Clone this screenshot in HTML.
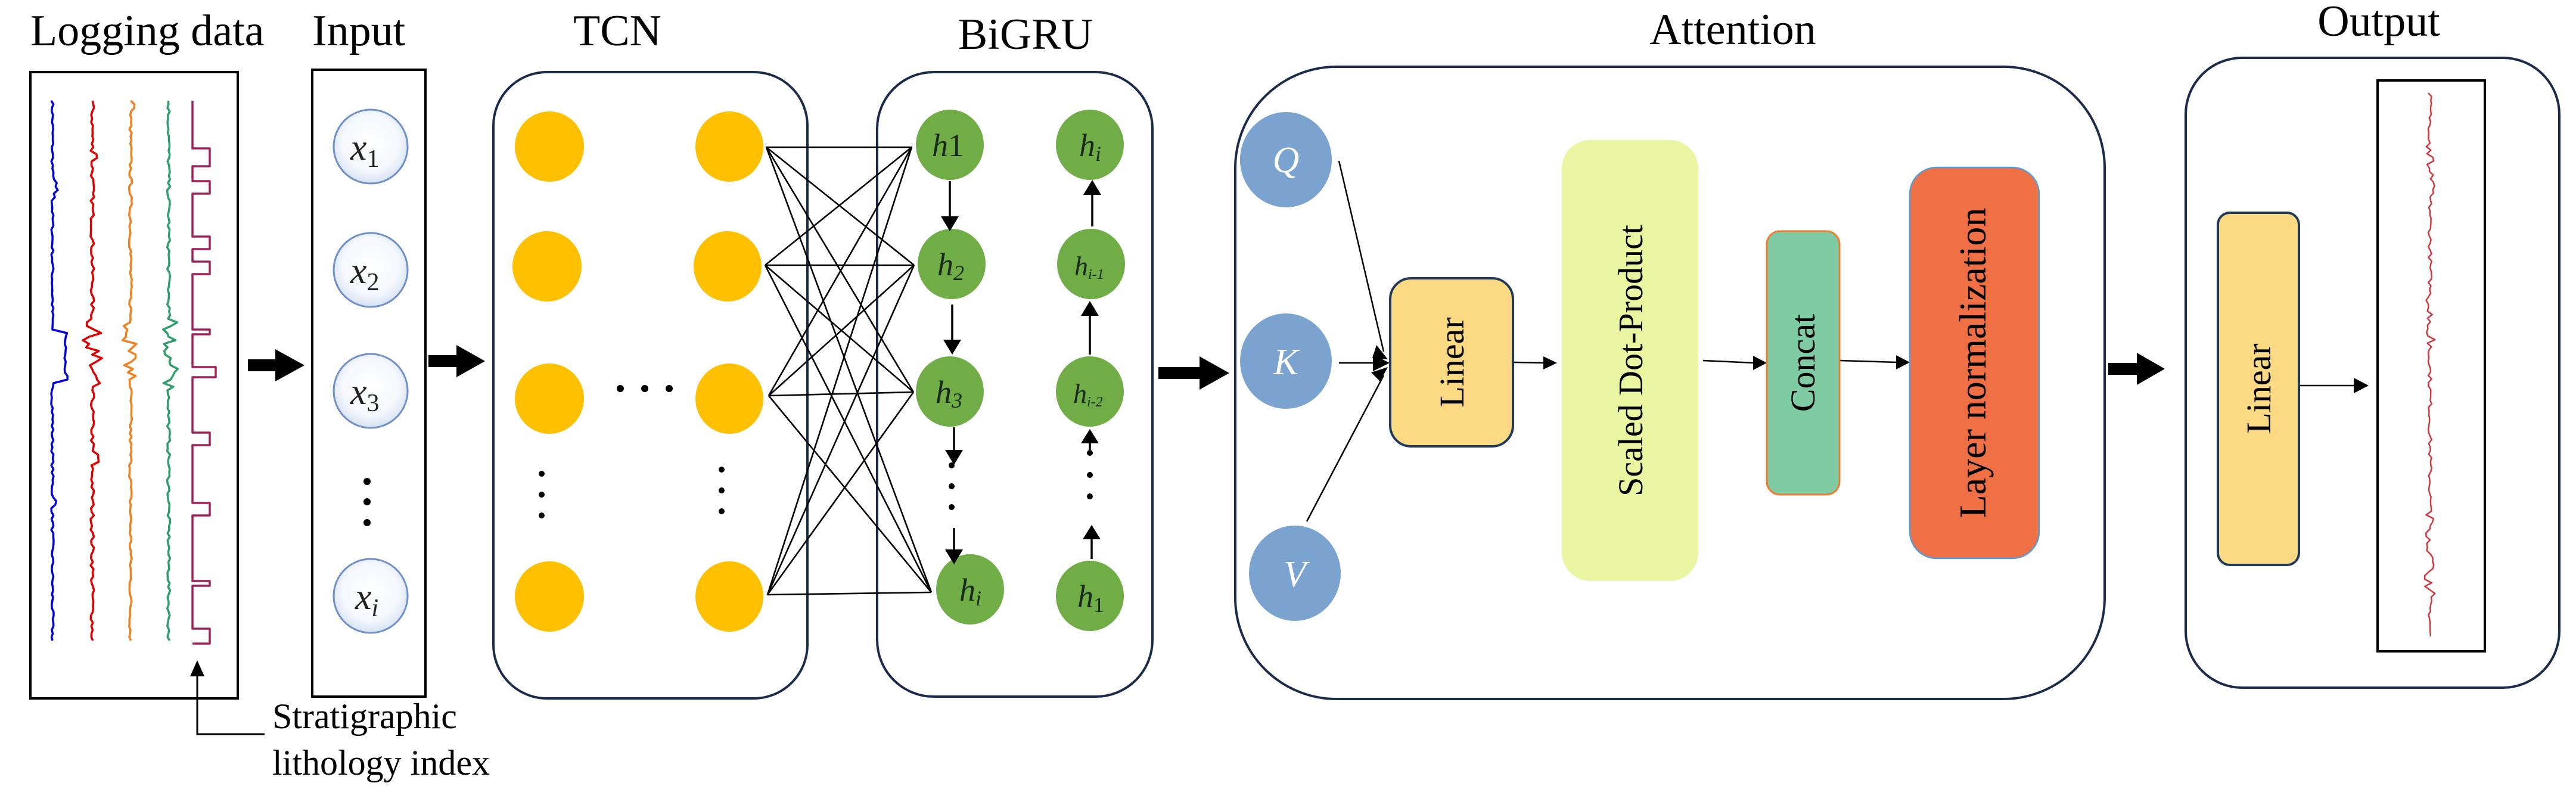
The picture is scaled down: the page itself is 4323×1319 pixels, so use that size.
<!DOCTYPE html>
<html><head><meta charset="utf-8"><style>
html,body{margin:0;padding:0;background:#fff;}
svg{display:block;}
text{font-family:"Liberation Serif",serif;}
</style></head><body>
<svg id="s" width="4323" height="1319" viewBox="0 0 4323 1319" xmlns="http://www.w3.org/2000/svg" font-family="Liberation Serif, serif">
<defs>
<radialGradient id="gx" cx="50%" cy="45%" r="55%"><stop offset="0" stop-color="#ffffff"/><stop offset="0.7" stop-color="#f4f7fc"/><stop offset="1" stop-color="#d6e2f3"/></radialGradient>
</defs>

<g font-size="74" fill="#000">
<text x="51" y="76">Logging data</text>
<text x="524" y="76">Input</text>
<text x="1036" y="76" text-anchor="middle">TCN</text>
<text x="1721" y="82" text-anchor="middle">BiGRU</text>
<text x="2908" y="74" text-anchor="middle">Attention</text>
<text x="3992" y="60" text-anchor="middle">Output</text>
</g>

<rect x="51" y="121" width="348" height="1051" fill="#fff" stroke="#000" stroke-width="4"/>
<g id="curves" fill="none" stroke-width="3.5" stroke-linejoin="round"></g>

<polyline points="444,1232 331,1232 331,1125" fill="none" stroke="#000" stroke-width="3"/>
<polygon points="331,1108 319,1135 343,1135" fill="#000"/>
<text x="457" y="1222" font-size="60">Stratigraphic</text>
<text x="457" y="1300" font-size="60">lithology index</text>

<g fill="#000">
<polygon points="416,603 462,603 462,586 511,613 462,640 462,623 416,623"/>
<polygon points="719,596 766,596 766,579 814,606 766,633 766,616 719,616"/>
<polygon points="1944,616 2013,616 2013,598 2063,626 2013,654 2013,636 1944,636"/>
<polygon points="3538,609 3586,609 3586,592 3633,619 3586,646 3586,629 3538,629"/>
</g>

<rect x="524" y="117" width="190" height="1052" fill="#fff" stroke="#000" stroke-width="4"/>
<g stroke="#6f8fc7" stroke-width="3" fill="url(#gx)">
<circle cx="622" cy="246" r="62"/>
<circle cx="622" cy="453" r="62"/>
<circle cx="622" cy="656" r="62"/>
<circle cx="622" cy="1000" r="62"/>
</g>
<g font-size="62" font-style="italic" fill="#222">
<text x="588" y="268">x<tspan font-size="42" font-style="normal" dy="12">1</tspan></text>
<text x="588" y="475">x<tspan font-size="42" font-style="normal" dy="12">2</tspan></text>
<text x="588" y="678">x<tspan font-size="42" font-style="normal" dy="12">3</tspan></text>
<text x="596" y="1022">x<tspan font-size="42" dy="12">i</tspan></text>
</g>
<g fill="#000"><circle cx="616" cy="808" r="6"/><circle cx="616" cy="842" r="6"/><circle cx="616" cy="877" r="6"/></g>

<rect x="828" y="121" width="527" height="1051" rx="90" fill="none" stroke="#1b2c4a" stroke-width="4"/>
<g fill="#ffc000">
<ellipse cx="922" cy="246" rx="58" ry="59"/><ellipse cx="1224" cy="246" rx="57" ry="59"/>
<ellipse cx="918" cy="447" rx="58" ry="59"/><ellipse cx="1221" cy="447" rx="57" ry="59"/>
<ellipse cx="922" cy="669" rx="58" ry="59"/><ellipse cx="1224" cy="669" rx="57" ry="59"/>
<ellipse cx="922" cy="1001" rx="58" ry="59"/><ellipse cx="1224" cy="1001" rx="57" ry="59"/>
</g>
<g fill="#000">
<circle cx="1041" cy="652" r="6"/><circle cx="1082" cy="652" r="6"/><circle cx="1123" cy="652" r="6"/>
<circle cx="909" cy="795" r="5"/><circle cx="909" cy="830" r="5"/><circle cx="909" cy="865" r="5"/>
<circle cx="1211" cy="788" r="5"/><circle cx="1211" cy="823" r="5"/><circle cx="1211" cy="858" r="5"/>
</g>

<rect x="1472" y="121" width="462" height="1048" rx="95" fill="none" stroke="#1b2c4a" stroke-width="4"/>
<g id="cross" stroke="#000" stroke-width="2.6" fill="none"></g>

<g fill="#70ad47">
<ellipse cx="1594" cy="243" rx="57" ry="59"/><ellipse cx="1829" cy="243" rx="57" ry="59"/>
<ellipse cx="1597" cy="443" rx="57" ry="59"/><ellipse cx="1831" cy="443" rx="57" ry="59"/>
<ellipse cx="1594" cy="657" rx="57" ry="59"/><ellipse cx="1829" cy="657" rx="57" ry="59"/>
<ellipse cx="1628" cy="989" rx="57" ry="59"/><ellipse cx="1829" cy="1000" rx="57" ry="59"/>
</g>
<g font-size="54" font-style="italic" fill="#1a2a1a">
<text x="1564" y="262">h<tspan font-style="normal">1</tspan></text>
<text x="1573" y="462">h<tspan font-size="36" dy="8">2</tspan></text>
<text x="1570" y="676">h<tspan font-size="36" dy="8">3</tspan></text>
<text x="1610" y="1008">h<tspan font-size="36" dy="8">i</tspan></text>
<text x="1811" y="262">h<tspan font-size="36" dy="8">i</tspan></text>
<text x="1803" y="462" font-size="46">h<tspan font-size="24" dy="6">i-1</tspan></text>
<text x="1801" y="676" font-size="46">h<tspan font-size="24" dy="6">i-2</tspan></text>
<text x="1808" y="1019">h<tspan font-size="36" dy="8" font-style="normal">1</tspan></text>
</g>
<g stroke="#000" stroke-width="3.5">
<line x1="1594" y1="304" x2="1594" y2="365"/>
<line x1="1598" y1="511" x2="1598" y2="572"/>
<line x1="1601" y1="717" x2="1601" y2="758"/>
<line x1="1601" y1="886" x2="1601" y2="925"/>
<line x1="1833" y1="380" x2="1833" y2="325"/>
<line x1="1829" y1="595" x2="1829" y2="527"/>
<line x1="1829" y1="755" x2="1829" y2="741"/>
<line x1="1832" y1="938" x2="1832" y2="903"/>
</g>
<g fill="#000">
<polygon points="1579,363 1609,363 1594,388"/>
<polygon points="1583,570 1613,570 1598,595"/>
<polygon points="1586,755 1616,755 1601,780"/>
<polygon points="1586,922 1616,922 1601,947"/>
<polygon points="1818,327 1848,327 1833,302"/>
<polygon points="1814,530 1844,530 1829,505"/>
<polygon points="1814,744 1844,744 1829,720"/>
<polygon points="1817,905 1847,905 1832,881"/>
<circle cx="1597" cy="781" r="5"/><circle cx="1597" cy="816" r="5"/><circle cx="1597" cy="851" r="5"/>
<circle cx="1829" cy="760" r="5"/><circle cx="1829" cy="797" r="5"/><circle cx="1829" cy="833" r="5"/>
</g>

<rect x="2073" y="112" width="1459" height="1061" rx="170" fill="none" stroke="#1b2c4a" stroke-width="4"/>
<g fill="#7aa3cf">
<ellipse cx="2158" cy="268" rx="77" ry="80"/>
<ellipse cx="2158" cy="606" rx="77" ry="80"/>
<ellipse cx="2173" cy="962" rx="77" ry="80"/>
</g>
<g font-size="62" font-style="italic" fill="#fff" text-anchor="middle">
<text x="2158" y="289">Q</text><text x="2158" y="628">K</text><text x="2173" y="984">V</text>
</g>
<g stroke="#000" stroke-width="2.5">
<line x1="2247" y1="270" x2="2322" y2="590"/>
<line x1="2247" y1="609" x2="2315" y2="609"/>
<line x1="2193" y1="875" x2="2322" y2="630"/>
<line x1="2541" y1="608" x2="2598" y2="609"/>
<line x1="2858" y1="605" x2="2945" y2="609"/>
<line x1="3087" y1="605" x2="3185" y2="608"/>
<line x1="3858" y1="647" x2="3952" y2="647"/>
</g>
<g fill="#000">
<polygon points="2332,609 2304,595 2304,623"/>
<polygon points="2329,603 2310,579 2303,601"/>
<polygon points="2329,616 2301,625 2316,640"/>
<polygon points="2613,609 2590,598 2590,620"/>
<polygon points="2965,609 2942,597 2942,621"/>
<polygon points="3205,608 3182,596 3182,620"/>
<polygon points="3975,647 3950,634 3950,660"/>
</g>
<rect x="2333" y="467" width="206" height="282" rx="35" fill="#fcd983" stroke="#1f3a5a" stroke-width="4"/>
<text transform="translate(2456,608) rotate(-90)" font-size="58" text-anchor="middle">Linear</text>
<rect x="2621" y="235" width="229" height="740" rx="48" fill="#e9f5a0"/>
<text transform="translate(2756,605) rotate(-90)" font-size="58" text-anchor="middle">Scaled Dot-Product</text>
<rect x="2965" y="388" width="122" height="442" rx="22" fill="#7fcba4" stroke="#ee7d31" stroke-width="3"/>
<text transform="translate(3045,609) rotate(-90)" font-size="58" text-anchor="middle">Concat</text>
<rect x="3205" y="281" width="217" height="656" rx="45" fill="#f07045" stroke="#5b9bd5" stroke-width="2.5"/>
<text transform="translate(3332,609) rotate(-90)" font-size="64" text-anchor="middle">Layer normalization</text>

<rect x="3668" y="97" width="627" height="1057" rx="95" fill="none" stroke="#1b2c4a" stroke-width="4"/>
<rect x="3722" y="357" width="136" height="591" rx="20" fill="#fcd983" stroke="#1f3a5a" stroke-width="4"/>
<text transform="translate(3810,652) rotate(-90)" font-size="58" text-anchor="middle">Linear</text>
<rect x="3990" y="135" width="180" height="958" fill="#fff" stroke="#000" stroke-width="4"/>
<g id="outc" fill="none" stroke="#d0383f" stroke-width="2.5" stroke-linejoin="round"></g>
</svg>
<script>
(function(){
var NS="http://www.w3.org/2000/svg";
var seed=7;function r(){seed=(seed*16807)%2147483647;return seed/2147483647-0.5;}
function path(g,d,c){var p=document.createElementNS(NS,"path");p.setAttribute("d",d);if(c)p.setAttribute("stroke",c);g.appendChild(p);}
var cg=document.getElementById("curves");
function wig(base,amp,c,bumps,y0,y1){var d="",x;for(var y=y0;y<=y1;y+=6){x=base+r()*amp;for(var i=0;i<bumps.length;i++){var b=bumps[i];if(y>=b[0]&&y<=b[1])x+=b[2]+r()*b[3];}d+=(d?"L":"M")+x.toFixed(1)+","+y;}path(cg,d,c);}
wig(88,4,"#0000dd",[[555,640,22,4],[300,335,4,8],[830,850,4,6]],169,1080);
wig(155,6,"#e00000",[[540,650,0,30],[255,270,8,6],[760,780,8,6]],169,1080);
wig(219,5,"#f08020",[[540,640,0,22],[170,185,6,4]],169,1080);
wig(283,5,"#2e9e6a",[[540,650,0,30]],169,1080);
var st=[[249,279],[304,325],[397,418],[439,460],[553,561],[616,633],[726,747],[844,865],[975,983],[1055,1080]];
var d="M323,169",xb=323;
for(var i=0;i<st.length;i++){var x2=(i==5)?362:352;d+="L"+xb+","+st[i][0]+"L"+x2+","+st[i][0]+"L"+x2+","+st[i][1]+"L"+xb+","+st[i][1];}
d+="L"+xb+",1080";path(cg,d,"#a0215a");
var og=document.getElementById("outc");var od="";
for(var y=156;y<=1072;y+=6){var x=4078+r()*6;if((y>240&&y<330)||(y>500&&y<600)||(y>860&&y<1000))x+=r()*14;od+=(od?"L":"M")+x.toFixed(1)+","+y;}
path(og,od);
var cr=document.getElementById("cross");
var L=[[1286,247],[1284,445],[1290,664],[1288,998]],R=[[1530,247],[1534,445],[1533,658],[1563,994]];
for(var a=0;a<4;a++)for(var b=0;b<4;b++){var l=document.createElementNS(NS,"line");l.setAttribute("x1",L[a][0]);l.setAttribute("y1",L[a][1]);l.setAttribute("x2",R[b][0]);l.setAttribute("y2",R[b][1]);cr.appendChild(l);}
})();
</script>
</body></html>
